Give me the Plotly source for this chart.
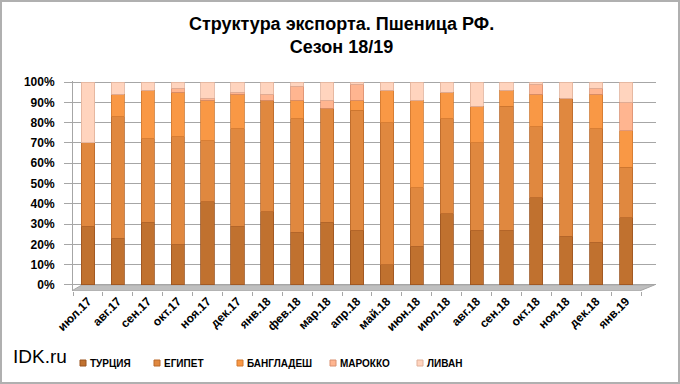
import plotly.graph_objects as go

months = ["июл.17", "авг.17", "сен.17", "окт.17", "ноя.17", "дек.17", "янв.18",
          "фев.18", "мар.18", "апр.18", "май.18", "июн.18", "июл.18", "авг.18",
          "сен.18", "окт.18", "ноя.18", "дек.18", "янв.19"]
turkey     = [29, 23, 31, 20, 41, 29, 36, 26, 31, 27, 10, 19, 35, 27, 27, 43, 24, 21, 33]
egypt      = [41, 60, 41, 53, 30, 48, 55, 56, 56, 59, 70, 29, 47, 43, 61, 35, 68, 56, 25]
bangladesh = [0, 11, 24, 22, 20, 17, 0, 9, 0, 5, 16, 43, 13, 18, 8, 16, 0, 17, 18]
morocco    = [0, 0, 0, 2, 1, 1, 3, 7, 4, 8, 0, 0, 0, 0, 0, 5, 0, 3, 14]
lebanon    = [30, 6, 4, 3, 8, 5, 6, 2, 9, 1, 4, 9, 5, 12, 4, 1, 8, 3, 10]
y_ticks = [0, 10, 20, 30, 40, 50, 60, 70, 80, 90, 100]
y_tick_labels = [f"{v}%" for v in y_ticks]

series = [
    ("ТУРЦИЯ", turkey, "#C0712F", "#9A5420"),
    ("ЕГИПЕТ", egypt, "#E0883F", "#B8682A"),
    ("БАНГЛАДЕШ", bangladesh, "#F99845", "#D07830"),
    ("МАРОККО", morocco, "#FFB590", "#D99070"),
    ("ЛИВАН", lebanon, "#FFD4BE", "#E0B09A"),
]
legend_px = [83, 157, 240, 333, 420]  # legend marker x positions (px)

W, H = 680, 384
L, R, T, B = 73, 24, 81, 93
pw, ph = W - L - R, H - T - B


def px_x(v):
    return (v - L) / pw


def px_y(v):
    return (H - B - v) / ph


fig = go.Figure()
for name, vals, col, edge in series:
    fig.add_trace(go.Bar(
        x=months, y=vals, name=name, width=0.44,
        marker=dict(color=col, line=dict(color=edge, width=0.8)),
        showlegend=False,
    ))

shapes = []
shapes.append(dict(type="path", xref="x", yref="y",
                   path="M -0.55,-3 L 18.45,-3 L 18.95,0 L -0.2,0 Z",
                   fillcolor="#BFBFBF", line=dict(color="#A6A6A6", width=1), layer="below"))
shapes.append(dict(type="rect", xref="paper", yref="paper",
                   x0=px_x(1), x1=px_x(W - 1), y0=px_y(H - 1), y1=px_y(1),
                   line=dict(color="#B0B0B0", width=2), fillcolor="rgba(0,0,0,0)"))

annotations = [
    dict(text="<b>Структура экспорта. Пшеница РФ.<br>Сезон 18/19</b>",
         xref="paper", yref="paper", x=px_x(341), y=px_y(12),
         xanchor="center", yanchor="top", showarrow=False,
         font=dict(family="Arial", size=18, color="black")),
    dict(text="IDK.ru", xref="paper", yref="paper",
         x=px_x(11), y=px_y(356), xanchor="left", yanchor="middle",
         showarrow=False, font=dict(family="Arial", size=19, color="black")),
]

ly = 363
for (name, vals, col, edge), lx in zip(series, legend_px):
    shapes.append(dict(type="rect", xref="paper", yref="paper",
                       x0=px_x(lx - 3), x1=px_x(lx + 3), y0=px_y(ly + 3), y1=px_y(ly - 3),
                       fillcolor=col, line=dict(color=edge, width=1)))
    annotations.append(dict(text="<b>" + name + "</b>", xref="paper", yref="paper",
                            x=px_x(lx + 5), y=px_y(ly), xanchor="left", yanchor="middle",
                            showarrow=False,
                            font=dict(family="Arial", size=10, color="black")))

fig.update_layout(
    width=W, height=H,
    margin=dict(l=L, r=R, t=T, b=B, autoexpand=False),
    paper_bgcolor="white", plot_bgcolor="white",
    barmode="stack",
    showlegend=False,
    font=dict(family="Arial", color="black"),
    xaxis=dict(type="category", range=[-0.5, 19.0], tickangle=-45, automargin=False,
               tickfont=dict(family="Arial", size=12, weight="bold"),
               ticks="outside", tickson="boundaries", ticklen=4, tickcolor="#A6A6A6",
               showgrid=False, showline=False, zeroline=False),
    yaxis=dict(range=[-3, 100.5], tickvals=y_ticks, ticktext=y_tick_labels, automargin=False,
               tickfont=dict(family="Arial", size=12, weight="bold"),
               ticks="outside", ticklen=8, tickcolor="#A6A6A6", ticklabelstandoff=7,
               showgrid=True, gridcolor="#A6A6A6", gridwidth=1,
               zeroline=False, showline=True, linecolor="#A6A6A6"),
    shapes=shapes,
    annotations=annotations,
)

fig.write_html("out.html", config={"displayModeBar": False},
               post_script="document.body.style.margin='0';document.body.style.overflow='hidden';")
